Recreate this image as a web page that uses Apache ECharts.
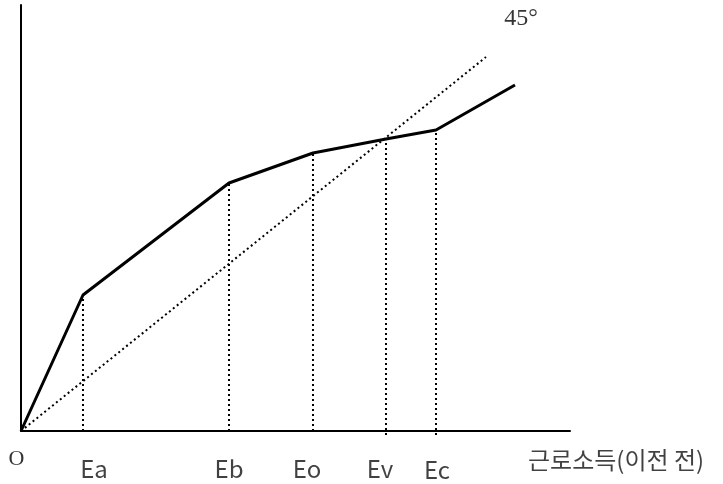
<!DOCTYPE html>
<html><head><meta charset="utf-8">
<script src="https://cdn.jsdelivr.net/npm/echarts@6/dist/echarts.min.js"></script>
<style>html,body{margin:0;padding:0;background:#fff}#c{width:723px;height:484px}</style>
</head><body><div id="c"></div>
<script>
// Data (units: arbitrary income scale)
const pointNames = ['Ea', 'Eb', 'Eo', 'Ev', 'Ec'];
const pointX = [62, 208, 292, 365, 415];
const pointY = [136, 248, 278, 292, 301];
const lineEnd = [494, 346];
const diagEnd = [465, 374];
const dropBottom = [0, 0, 0, -4, -4];
const labelX = [73, 208, 286, 359, 416];
const labelY = [-38, -38, -38, -38, -39];
const axisTitle = '근로소득(이전 전)';
const originLabel = 'O';
const angleLabel = '45°';

const solidData = [[0, 0]].concat(pointX.map((x, i) => [x, pointY[i]]), [lineEnd]);
const series = [];
series.push({type: 'line', data: [[0, 0], diagEnd], symbol: 'none', clip: false,
  lineStyle: {color: '#000', width: 2, type: [2, 3]}, z: 2});
pointX.forEach((x, i) => {
  series.push({type: 'line', data: [[x, dropBottom[i]], [x, pointY[i]]], symbol: 'none', clip: false,
    lineStyle: {color: '#000', width: 2, type: [2, 3]}, z: 2});
});
series.push({type: 'line', data: solidData, symbol: 'none', clip: false,
  lineStyle: {color: '#000', width: 3}, z: 3});
series.push({type: 'scatter', symbolSize: 0, clip: false,
  data: pointNames.map((n, i) => ({name: n, value: [labelX[i], labelY[i]]})),
  label: {show: true, position: 'inside', formatter: p => p.name, color: '#111',
    fontFamily: 'Noto Sans CJK KR', fontSize: 24}});
series.push({type: 'scatter', symbolSize: 0, clip: false,
  data: [{name: 'o', value: [-4.5, -28.5]}, {name: 'a', value: [500, 412]}],
  label: {show: true, position: 'inside',
    formatter: p => p.name === 'o' ? '{o|' + originLabel + '}' : '{a|' + angleLabel + '}',
    rich: {
      o: {fontFamily: 'serif', fontSize: 22, color: '#000'},
      a: {fontFamily: 'serif', fontSize: 24, color: '#000'}
    }}});
series.push({type: 'scatter', symbolSize: 0, clip: false,
  data: [{name: axisTitle, value: [507, -29]}],
  label: {show: true, position: 'right', distance: 0, formatter: p => p.name, color: '#111',
    fontFamily: 'Noto Sans CJK KR', fontSize: 24}});

const chart = echarts.init(document.getElementById('c'));
chart.setOption({
  animation: false,
  grid: {left: 21, top: 5, width: 549, height: 426, containLabel: false},
  xAxis: {type: 'value', min: 0, max: 549, axisLine: {show: true, onZero: false, lineStyle: {color: '#000', width: 2}},
    axisTick: {show: false}, axisLabel: {show: false}, splitLine: {show: false}},
  yAxis: {type: 'value', min: 0, max: 426, axisLine: {show: true, onZero: false, lineStyle: {color: '#000', width: 2}},
    axisTick: {show: false}, axisLabel: {show: false}, splitLine: {show: false}},
  series: series
});
</script></body></html>
